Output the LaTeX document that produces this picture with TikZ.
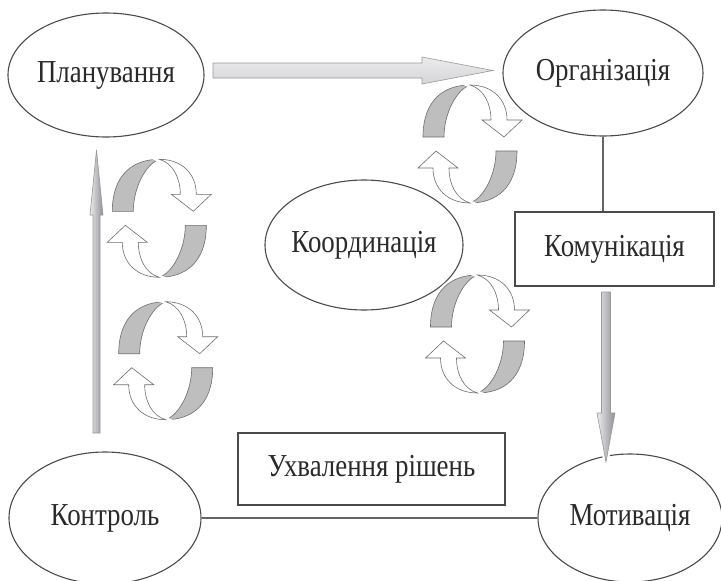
\documentclass[tikz,border=0pt]{standalone}
\usepackage{fontspec}
\setmainfont{Liberation Serif}[FakeStretch=0.84]
\usetikzlibrary{shapes.geometric,calc}
\definecolor{dgink}{HTML}{2A2A2A}
\definecolor{dgline}{HTML}{4A4A4A}
\definecolor{dgband}{HTML}{BEBEBE}
\definecolor{dglite}{HTML}{EBEBED}
\definecolor{dgdark}{HTML}{8E8E95}

% one turning pair of ribbons, drawn with y pointing up
\tikzset{
  turn/.pic={
    \foreach \r in {0,180} {
      \draw[band, rotate=\r] (-47,7) .. controls (-47,45) and (-25,59) .. (0,59)
        .. controls (-14,54) and (-26,30) .. (-26,7) -- cycle;
    }
    \foreach \r in {0,180} {
      \draw[ribbon, rotate=\r] (0,59) .. controls (22,59) and (37,45) .. (37,24)
        -- (52,24) -- (34,7) -- (12,24) -- (21,24)
        .. controls (21,40) and (14,55) .. (0,59) -- cycle;
    }
  }
}

\begin{document}
\begin{tikzpicture}[x=1pt, y=-1pt, font=\fontsize{32}{34}\selectfont, text=dgink,
    stage/.style={ellipse, draw=dgline, line width=1.1pt, inner xsep=-30pt, inner ysep=0pt, fill=white},
    box/.style={rectangle, draw=dgline, line width=1.3pt, inner sep=0pt, fill=white},
    link/.style={draw=dgline!85, line width=1.4pt},
    bigarrow/.style={draw=gray!80, line width=0.6pt, top color=dglite, middle color=dgdark, bottom color=dglite!80!gray},
    thinarrow/.style={draw=gray!80, line width=0.6pt, left color=dglite, right color=dgdark},
    halo/.style={preaction={draw=white, line width=5pt}},
    band/.style={draw=dgline!80, line width=0.6pt, fill=dgband, halo},
    ribbon/.style={draw=dgline!80, line width=0.6pt, fill=white, halo},
  ]
  \useasboundingbox (0,0) rectangle (721,581);

  % functions
  \node[stage, minimum width=196, minimum height=124] (plan) at (106,75) {Планування};
  \node[stage, minimum width=200, minimum height=126] (org) at (603,73) {Організація};
  \node[stage, minimum width=198, minimum height=130] (coord) at (364,245) {Координація};
  \node[stage, minimum width=192, minimum height=132] (ctrl) at (105,518) {Контроль};
  \node[stage, minimum width=184, minimum height=128] (motiv) at (630,518) {Мотивація};
  \node[box, minimum width=199, minimum height=74] (comm) at (614.5,249) {Комунікація};
  \node[box, minimum width=267, minimum height=72] (dec) at (371.5,469) {Ухвалення рішень};

  % plain links
  \draw[link] (org.south) -- (org.south |- comm.north);
  \draw[link] (ctrl.east) -- (motiv.west);

  % shaded arrows
  \coordinate (pa) at (213,70.5);
  \coordinate (pb) at (493,70.5);
  \draw[bigarrow] ($(pa)+(0,-7.5)$) -- ($(pb)+(-71,-7.5)$) -- ($(pb)+(-71,-13.5)$) -- (pb)
    -- ($(pb)+(-71,13.5)$) -- ($(pb)+(-71,7.5)$) -- ($(pa)+(0,7.5)$) -- cycle;

  \coordinate (ca) at (96.5,433);
  \coordinate (cb) at (96.5,150);
  \draw[thinarrow] ($(ca)+(-3.5,0)$) -- ($(cb)+(-3.5,65)$) -- ($(cb)+(-6.5,65)$) -- (cb)
    -- ($(cb)+(6.5,65)$) -- ($(cb)+(3.5,65)$) -- ($(ca)+(3.5,0)$) -- cycle;

  \coordinate (ma) at (606,292);
  \coordinate (mb) at (606,462);
  \draw[thinarrow, halo] ($(ma)+(-4.5,0)$) -- ($(mb)+(-4.5,-49)$) -- ($(mb)+(-9,-49)$) -- (mb)
    -- ($(mb)+(9,-49)$) -- ($(mb)+(4.5,-49)$) -- ($(ma)+(4.5,0)$) -- cycle;

  % turning ribbons
  \foreach \cx/\cy in {159.3/218.3, 165.7/360.7, 470/144, 477.5/334}
    \pic[yscale=-1] at (\cx,\cy) {turn};
\end{tikzpicture}
\end{document}
